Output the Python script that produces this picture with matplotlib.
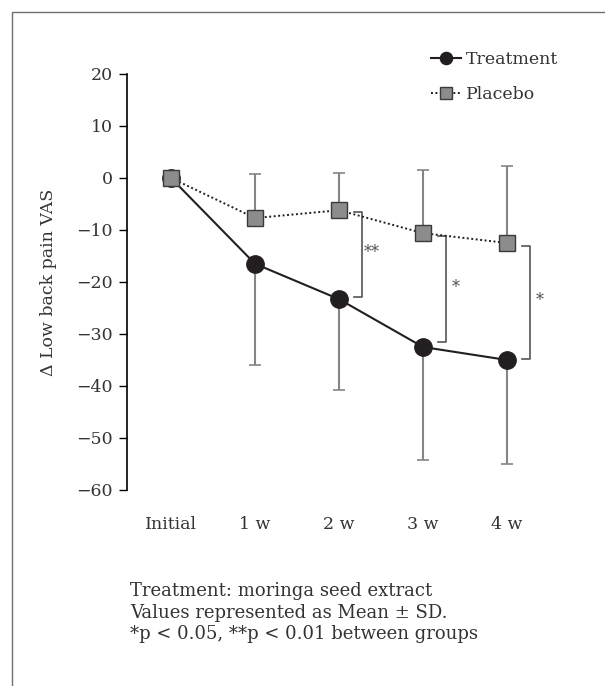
import matplotlib
matplotlib.use("Agg")
import matplotlib.pyplot as plt
from matplotlib.patches import Rectangle
import numpy as np

# data
timepoints = ["Initial", "1 w", "2 w", "3 w", "4 w"]
treatment = [0, -16.5, -23.3, -32.5, -35.0]
treatment_sd = [0, 19.5, 17.5, 21.7, 20.0]
placebo = [0, -7.7, -6.2, -10.6, -12.5]
placebo_sd = [0, 8.5, 7.2, 12.1, 14.8]

# significance brackets: (timepoint index, top, bottom, label)
brackets = [(2, -6.5, -22.9, "**"), (3, -11.2, -31.5, "*"), (4, -13.1, -34.8, "*")]

footnote = ("Treatment: moringa seed extract\n"
            "Values represented as Mean \u00b1 SD.\n"
            "*p < 0.05, **p < 0.01 between groups")

plt.rcParams['font.family'] = ['DejaVu Serif']
plt.rcParams['axes.unicode_minus'] = True

W, H = 605, 686
fig = plt.figure(figsize=(W / 100, H / 100), dpi=100)

# outer frame
fig.patches.append(Rectangle((12 / W, -0.05), 1.2, 1 - 12 / H + 0.05,
                             transform=fig.transFigure, fill=False,
                             edgecolor="#707070", linewidth=1.0))

ax = fig.add_axes([127 / W, 1 - 490 / H, (557 - 127) / W, (490 - 74) / H])
x = np.arange(len(timepoints))

err_col = "#858585"
zeros = np.zeros(len(x))
ax.errorbar(x, treatment, yerr=[treatment_sd, zeros], fmt="none",
            ecolor=err_col, elinewidth=1.5, capsize=4.5, capthick=1.2, zorder=1)
ax.errorbar(x, placebo, yerr=[zeros, placebo_sd], fmt="none",
            ecolor=err_col, elinewidth=1.5, capsize=4.5, capthick=1.2, zorder=1)

ax.plot(x, treatment, "-", color="#231f20", lw=1.5, marker="o",
        markersize=12.5, markerfacecolor="#231f20", markeredgecolor="#231f20",
        label="Treatment", zorder=3)
ax.plot(x, placebo, linestyle=(0, (1, 1.3)), color="#231f20", lw=1.4, marker="s",
        markersize=12, markerfacecolor="#8c8c8c", markeredgecolor="#3a3a3a",
        markeredgewidth=1.0, label="Placebo", zorder=4)

for i, top, bot, lab in brackets:
    bx = i + 0.275
    ax.plot([bx - 0.1, bx, bx, bx - 0.1], [top, top, bot, bot],
            color="#555555", lw=1.2, zorder=2)
    ax.text(bx + 0.12, (top + bot) / 2 + 0.3, lab, fontsize=11.5,
            color="#555555", ha="center", va="center")

ax.set_xlim(-0.524, 4.595)
ax.set_ylim(-60, 20)
ax.set_yticks(np.arange(-60, 21, 10))
ax.set_xticks(x)
ax.set_xticklabels(timepoints)
ax.tick_params(axis="x", length=0, pad=19, labelsize=12.5, labelcolor="#333333")
ax.tick_params(axis="y", direction="out", length=6, width=1.0,
               labelsize=12.5, labelcolor="#333333", pad=4)
for s in ["top", "right", "bottom"]:
    ax.spines[s].set_visible(False)
ax.spines["left"].set_linewidth(1.2)
ax.set_ylabel("\u0394 Low back pain VAS", fontsize=12.5, color="#333333",
              labelpad=14)

ax.legend(loc="upper left", bbox_to_anchor=(431 / W, 1 - 51 / H),
          bbox_transform=fig.transFigure, frameon=False, fontsize=12.5,
          handlelength=1.75, handletextpad=0.25, labelspacing=1.05,
          borderpad=0, borderaxespad=0, labelcolor="#333333", markerscale=0.7)

fig.text(130 / W, 1 - 582 / H, footnote, fontsize=13, color="#333333",
         ha="left", va="top", linespacing=1.25)

fig.savefig("out.png", dpi=100)
